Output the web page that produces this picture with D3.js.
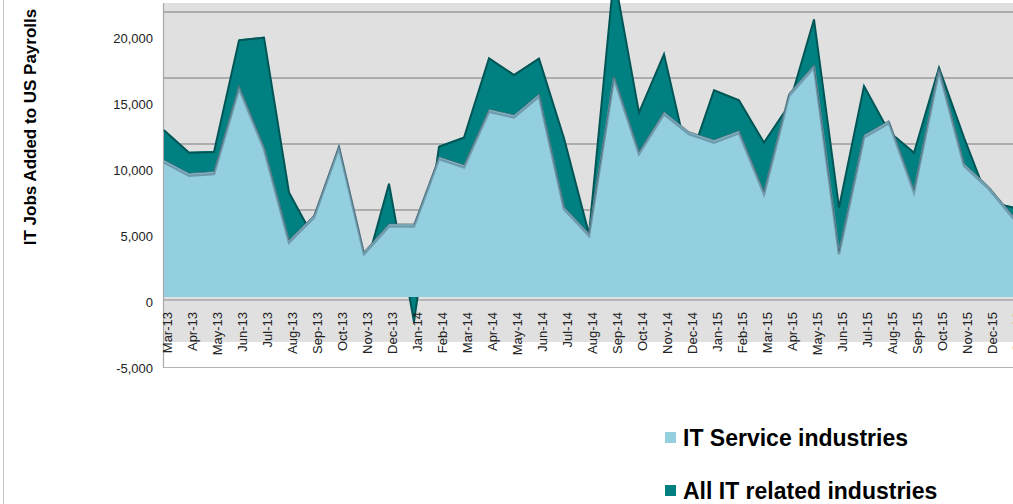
<!DOCTYPE html>
<html>
<head>
<meta charset="utf-8">
<script src="https://cdn.jsdelivr.net/npm/d3@7"></script>
<style>
  body { margin: 0; background: #fff; }
  svg { display: block; font-family: "Liberation Sans", Arial, sans-serif; }
</style>
</head>
<body>
<script>
// month labels, Mar-13 to Jan-16 (last one is cut off by the right edge)
var months = ["Mar-13","Apr-13","May-13","Jun-13","Jul-13","Aug-13","Sep-13","Oct-13","Nov-13","Dec-13",
  "Jan-14","Feb-14","Mar-14","Apr-14","May-14","Jun-14","Jul-14","Aug-14","Sep-14","Oct-14","Nov-14","Dec-14",
  "Jan-15","Feb-15","Mar-15","Apr-15","May-15","Jun-15","Jul-15","Aug-15","Sep-15","Oct-15","Nov-15","Dec-15",
  "Jan-16"];

// IT Service industries (front series)
var itService = [10380, 9370, 9500, 15980, 11390, 4320, 6210, 11500, 3430, 5530,
  5530, 10630, 10000, 14220, 13790, 15380, 6840, 4820, 16740, 11010, 14040, 12520,
  11890, 12600, 7980, 15430, 17580, 3430, 12270, 13360, 8110, 17320, 10130, 8360,
  6080];

// All IT related industries (back series)
var allIT = [12700, 11000, 11060, 19520, 19720, 8000, 4500, 11400, 1800, 8660,
  -1800, 11460, 12150, 18150, 16890, 18130, 12100, 4850, 24500, 14040, 18460, 10200,
  15730, 14970, 11770, 14600, 21100, 6840, 16060, 12600, 11010, 17450, 12150, 7250,
  6840];

var yTicks = [-5000, 0, 5000, 10000, 15000, 20000];
var seriesNames = ["IT Service industries", "All IT related industries"];
var seriesColors = ["#94cfe0", "#008080"];

window.onload = function() {
    var width = 1013, height = 504;

    var svg = d3.select("body")
        .append("svg")
        .attr("width", width)
        .attr("height", height);

    // outer chart border on the left
    svg.append("line")
        .attr("x1", 3.5).attr("x2", 3.5)
        .attr("y1", 0).attr("y2", height)
        .style("stroke", "#c4c4c4");

    // label scale (front of the 3d box)
    var y = d3.scaleLinear()
        .domain([-5000, 20000])
        .range([368, 38]);

    // data sits a few px higher, back wall further up
    var dataShift = -5, wallShift = -26;
    var yData = function(v) { return y(v) + dataShift; };

    // index position of each month
    var x = d3.scaleLinear()
        .domain([0, months.length - 1])
        .range([164, 164 + 25 * (months.length - 1)]);

    var left = 163, right = width;

    // back wall
    svg.append("rect")
        .attr("x", left)
        .attr("y", 3)
        .attr("width", right - left)
        .attr("height", y(-5000) + wallShift - 3)
        .style("fill", "#e0e0e0");

    // gridlines on the back wall
    svg.selectAll(".grid")
        .data(yTicks.filter(function(d) { return d >= 0; }))
        .enter()
        .append("line")
        .attr("class", "grid")
        .attr("x1", left)
        .attr("x2", right)
        .attr("y1", function(d) { return y(d) + wallShift; })
        .attr("y2", function(d) { return y(d) + wallShift; })
        .style("stroke", "#9c9c9c")
        .style("stroke-width", 1.5);

    // floor line and frame
    svg.append("line")
        .attr("x1", left).attr("x2", right)
        .attr("y1", y(0) - 2).attr("y2", y(0) - 2)
        .style("stroke", "#8a8a8a")
        .style("stroke-width", 1.2);
    svg.append("line")
        .attr("x1", left).attr("x2", right)
        .attr("y1", y(-5000) - 0.5).attr("y2", y(-5000) - 0.5)
        .style("stroke", "#b4b4b4")
        .style("stroke-width", 1.2);
    svg.append("line")
        .attr("x1", left + 0.5).attr("x2", left + 0.5)
        .attr("y1", 3).attr("y2", y(-5000))
        .style("stroke", "#a8a8a8")
        .style("stroke-width", 1.2);

    var area = function(vals) {
        return d3.area()
            .x(function(d, i) { return x(i); })
            .y0(yData(0))
            .y1(function(d) { return yData(d); })(vals);
    };
    var topLine = function(vals) {
        return d3.line()
            .x(function(d, i) { return x(i); })
            .y(function(d) { return yData(d); })(vals);
    };

    // back series
    svg.append("path")
        .attr("d", area(allIT))
        .style("fill", seriesColors[1]);
    svg.append("path")
        .attr("d", topLine(allIT))
        .attr("transform", "translate(0,1)")
        .style("fill", "none")
        .style("stroke", "#005656")
        .style("stroke-width", 2);

    // front series
    svg.append("path")
        .attr("d", area(itService))
        .style("fill", seriesColors[0]);
    svg.append("path")
        .attr("d", topLine(itService))
        .attr("transform", "translate(0,2.5)")
        .style("fill", "none")
        .style("stroke", "#6f9cad")
        .style("stroke-width", 2.5);
    svg.append("path")
        .attr("d", topLine(itService))
        .style("fill", "none")
        .style("stroke", "#4a6470")
        .style("stroke-width", 0.8);

    // y axis, plain hyphen for negatives like the original
    var fmt = d3.format(",");
    var yAxis = d3.axisLeft(y)
        .tickValues(yTicks)
        .tickSize(0)
        .tickPadding(0)
        .tickFormat(function(d) { return fmt(d).replace("\u2212", "-"); });

    var yg = svg.append("g")
        .attr("transform", "translate(153,0)")
        .call(yAxis);
    yg.select(".domain").remove();
    yg.selectAll("text")
        .attr("dy", "0.32em")
        .style("font-size", "13px")
        .style("fill", "#222");

    // x axis with rotated month labels
    var xAxis = d3.axisBottom(x)
        .tickValues(d3.range(months.length))
        .tickSize(0)
        .tickFormat(function(i) { return months[i]; });

    var xg = svg.append("g")
        .attr("transform", "translate(0,308)")
        .call(xAxis);
    xg.select(".domain").remove();
    xg.selectAll("text")
        .attr("transform", "rotate(-90)")
        .attr("text-anchor", "end")
        .attr("x", -4)
        .attr("y", 3)
        .attr("dy", "0.35em")
        .style("font-size", "13px")
        .style("fill", "#222");

    // y axis title
    svg.append("text")
        .attr("transform", "translate(36,127) rotate(-90)")
        .attr("text-anchor", "middle")
        .style("font-size", "17px")
        .style("font-weight", "bold")
        .text("IT Jobs Added to US Payrolls");

    // legend
    var legend = svg.selectAll(".legend")
        .data(seriesNames)
        .enter()
        .append("g")
        .attr("class", "legend")
        .attr("transform", function(d, i) { return "translate(665," + (446 + i * 53) + ")"; });

    legend.append("rect")
        .attr("y", -14)
        .attr("width", 11)
        .attr("height", 11)
        .style("fill", function(d, i) { return seriesColors[i]; });

    legend.append("text")
        .attr("x", 18)
        .style("font-size", "23px")
        .style("font-weight", "bold")
        .text(function(d) { return d; });
};
</script>
</body>
</html>
